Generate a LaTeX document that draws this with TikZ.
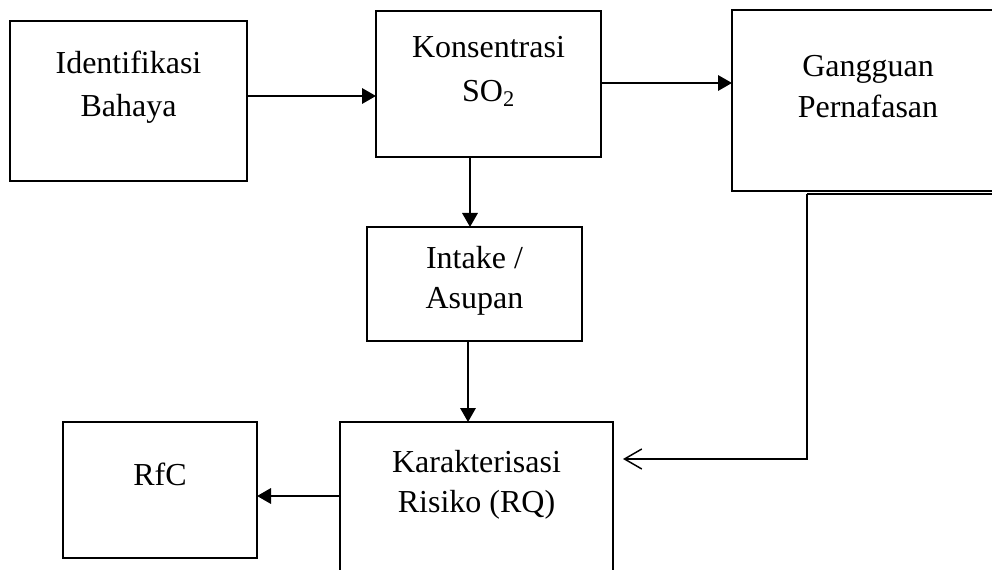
\documentclass[tikz,border=0pt]{standalone}
\usepackage{fontspec}
\setmainfont{Liberation Serif}
\usetikzlibrary{arrows.meta}
\begin{document}
\begin{tikzpicture}[x=0.75pt,y=-0.75pt,
  box/.style={draw=black,line width=1.4pt,fill=white,outer sep=0pt,inner sep=0pt},
  thickbox/.style={box,line width=2.2pt},
  lbl/.style={anchor=base,inner sep=0pt,font=\fontsize{24}{30}\selectfont},
  arr/.style={line width=1.7pt,-{Triangle[length=10.5pt,width=11.5pt]}},
  openarr/.style={line width=1.1pt,-{Straight Barb[length=13pt,width=15pt,line width=1.1pt]}}]
\clip (0,0) rectangle (992,570);
\useasboundingbox (0,0) rectangle (992,570);
% boxes
\node[box,minimum width=177.75pt,minimum height=120pt] (b1) at (128.5,101) {};
\node[box,minimum width=168.75pt,minimum height=109.5pt] (b2) at (488.5,84) {};
\node[thickbox,minimum width=204pt,minimum height=135.75pt] (b3) at (868,100.5) {};
\node[box,minimum width=161.25pt,minimum height=85.5pt] (b4) at (474.5,284) {};
\node[box,minimum width=145.5pt,minimum height=102pt] (b5) at (160,490) {};
\node[thickbox,minimum width=204.75pt,minimum height=141pt] (b6) at (476.5,516) {};
% labels
\node[lbl] (t1a) at (128.5,74) {Identifikasi};
\node[lbl] (t1b) at (128.5,117) {Bahaya};
\node[lbl] (t2a) at (488.5,58) {Konsentrasi};
\node[lbl] (t2b) at (488.5,102) {SO\textsubscript{2}};
\node[lbl] (t3a) at (868,77) {Gangguan};
\node[lbl] (t3b) at (868,118) {Pernafasan};
\node[lbl] (t4a) at (474.5,268) {Intake /};
\node[lbl] (t4b) at (474.5,308) {Asupan};
\node[lbl] (t5) at (160,485) {RfC};
\node[lbl] (t6a) at (476.5,472) {Karakterisasi};
\node[lbl] (t6b) at (476.5,512) {Risiko (RQ)};
% connectors
\draw[arr] (b1.east |- 0,96) -- (b2.west |- 0,96);
\draw[arr] (b2.east |- 0,83) -- (b3.west |- 0,83);
\draw[arr] (b2.south -| 470,0) -- (b4.north -| 470,0);
\draw[arr] (b4.south -| 468,0) -- (b6.north -| 468,0);
\draw[arr] (b6.west |- 0,496) -- (b5.east |- 0,496);
\coordinate (e1) at (1010,194);
\coordinate (c1) at (807,194);
\coordinate (c2) at (807,459);
\coordinate (e2) at (623,459);
\draw[line width=1.4pt] (e1) -- (c1);
\draw[openarr] (c1) -- (c2) -- (e2);
\end{tikzpicture}
\end{document}
